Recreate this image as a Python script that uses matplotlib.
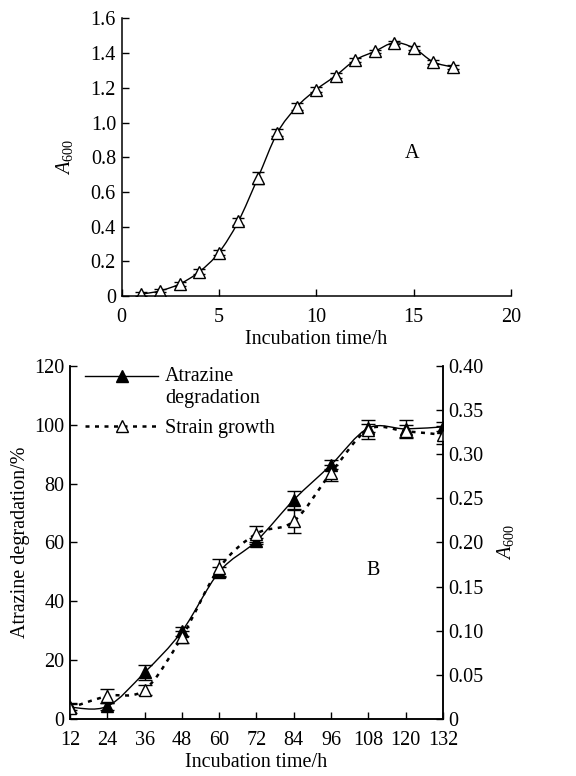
import numpy as np
import matplotlib
matplotlib.use("Agg")
import matplotlib.pyplot as plt
from matplotlib.path import Path
from matplotlib.patches import PathPatch
from matplotlib.lines import Line2D
from matplotlib.legend_handler import HandlerLine2D
from matplotlib.ticker import FuncFormatter

FS = 14.5
plt.rcParams["font.family"] = ["Liberation Serif", "DejaVu Serif"]
plt.rcParams["mathtext.fontset"] = "custom"
plt.rcParams["mathtext.rm"] = "Liberation Serif"
plt.rcParams["mathtext.it"] = "Liberation Serif:italic"
plt.rcParams["font.size"] = FS

# panel A: growth curve
hours_a = [1, 2, 3, 4, 5, 6, 7, 8, 9, 10, 11, 12, 13, 14, 15, 16, 17]
a600_a = [0.01, 0.03, 0.07, 0.14, 0.25, 0.43, 0.68, 0.94, 1.09, 1.19,
          1.27, 1.36, 1.41, 1.46, 1.43, 1.35, 1.32]
a600_a_err = [0.01, 0.01, 0.01, 0.015, 0.015, 0.02, 0.035, 0.02, 0.02, 0.015,
              0.015, 0.01, 0.01, 0.01, 0.01, 0.01, 0.01]

# panel B: degradation and growth
hours_b = [12, 24, 36, 48, 60, 72, 84, 96, 108, 120, 132]
degradation = [4.0, 4.3, 15.8, 29.8, 50.0, 60.5, 74.5, 86.4, 98.9, 98.6, 99.3]
degradation_err = [1.0, 1.2, 2.7, 1.5, 1.5, 1.0, 3.0, 1.5, 1.5, 3.0, 1.5]
growth = [0.0125, 0.026, 0.033, 0.093, 0.171, 0.210, 0.224, 0.279, 0.328, 0.326, 0.322]
growth_err = [0.006, 0.008, 0.006, 0.007, 0.010, 0.009, 0.013, 0.009, 0.011, 0.007, 0.010]


def smooth_patch(x, y, **kw):
    """Catmull-Rom curve through the points, as a bezier path."""
    pts = np.column_stack([x, y]).astype(float)
    ext = np.vstack([pts[0], pts, pts[-1]])
    verts = [pts[0]]
    codes = [Path.MOVETO]
    for i in range(1, len(ext) - 2):
        p0, p1, p2, p3 = ext[i - 1], ext[i], ext[i + 1], ext[i + 2]
        verts += [p1 + (p2 - p0) / 6.0, p2 - (p3 - p1) / 6.0, p2]
        codes += [Path.CURVE4] * 3
    return PathPatch(Path(verts, codes), fill=False, **kw)


class FirstLineHandler(HandlerLine2D):
    # put the handle on the first line of a two-line label
    def create_artists(self, legend, orig_handle, xdescent, ydescent,
                       width, height, fontsize, trans):
        return super().create_artists(legend, orig_handle, xdescent,
                                      ydescent - 1.15 * fontsize, width, height,
                                      fontsize, trans)


def style_axis(ax):
    ax.tick_params(direction="in", length=5, width=1, labelsize=FS, pad=4)
    for s in ax.spines.values():
        s.set_linewidth(1.1)


fig = plt.figure(figsize=(5.76, 7.76), dpi=100)

# ---- panel A
axA = fig.add_axes([0.211, 0.6186, 0.676, 0.3576])
axA.add_patch(smooth_patch(hours_a, a600_a, color="black", lw=1.0))
axA.errorbar(hours_a, a600_a, yerr=a600_a_err, fmt="^", ms=8, mfc="white",
             mec="black", mew=1.0, ecolor="black", elinewidth=1.0,
             capsize=4.5, capthick=1.0)
axA.set_xlim(0, 20)
axA.set_ylim(0, 1.6)
axA.set_xticks([0, 5, 10, 15, 20])
axA.set_yticks(np.arange(0, 1.61, 0.2))
axA.yaxis.set_major_formatter(FuncFormatter(lambda v, p: "0" if v == 0 else f"{v:.1f}"))
axA.spines["top"].set_visible(False)
axA.spines["right"].set_visible(False)
style_axis(axA)
axA.tick_params(axis="x", pad=9)
axA.set_xlabel("Incubation time/h", fontsize=FS, labelpad=2)
axA.set_ylabel(r"$\mathit{A}_{600}$", fontsize=FS, labelpad=11)
axA.text(14.9, 0.82, "A", ha="center", va="center", fontsize=FS)

# ---- panel B
axB = fig.add_axes([0.1215, 0.0735, 0.6476, 0.4549])
axB2 = axB.twinx()
axB.add_patch(smooth_patch(hours_b, degradation, color="black", lw=1.0))
axB.errorbar(hours_b, degradation, yerr=degradation_err, fmt="^", ms=9,
             mfc="black", mec="black", ecolor="black", elinewidth=1.0,
             capsize=5, capthick=1.0)
axB2.add_patch(smooth_patch(hours_b, growth, color="black", lw=1.8,
                            linestyle=(0, (1.6, 2.2))))
axB2.errorbar(hours_b, growth, yerr=growth_err, fmt="^", ms=9,
              mfc="white", mec="black", mew=1.0, ecolor="black",
              elinewidth=1.0, capsize=5, capthick=1.0)

axB.set_xlim(12, 132)
axB.set_ylim(0, 120)
axB2.set_ylim(0, 0.40)
axB.set_xticks(hours_b)
axB.set_yticks(np.arange(0, 121, 20))
axB2.set_yticks(np.arange(0, 0.401, 0.05))
axB2.yaxis.set_major_formatter(FuncFormatter(lambda v, p: "0" if v == 0 else f"{v:.2f}"))
for a in (axB, axB2):
    a.spines["top"].set_visible(False)
    style_axis(a)
axB.tick_params(axis="x", pad=9)
axB.set_xlabel("Incubation time/h", fontsize=FS, labelpad=2)
axB.set_ylabel("Atrazine degradation/%", fontsize=FS, labelpad=3)
axB2.set_ylabel(r"$\mathit{A}_{600}$", fontsize=FS, labelpad=8)
axB2.text(109.5, 50.6, "B", ha="center", va="center", fontsize=FS,
          transform=axB.transData)

h_deg = Line2D([], [], color="black", lw=1.0, marker="^", ms=9, mfc="black")
h_gro = Line2D([], [], color="black", lw=1.8, linestyle=(0, (1.6, 2.2)),
               marker="^", ms=9, mfc="white", mew=1.0)
axB2.legend([h_deg, h_gro], ["Atrazine\ndegradation", "Strain growth"],
            handler_map={h_deg: FirstLineHandler()},
            loc="upper left", frameon=False, handlelength=3.6,
            handletextpad=0.35, labelspacing=0.55, borderaxespad=0.0,
            bbox_to_anchor=(0.02, 1.02), fontsize=FS)

fig.savefig("out.png", dpi=100)
